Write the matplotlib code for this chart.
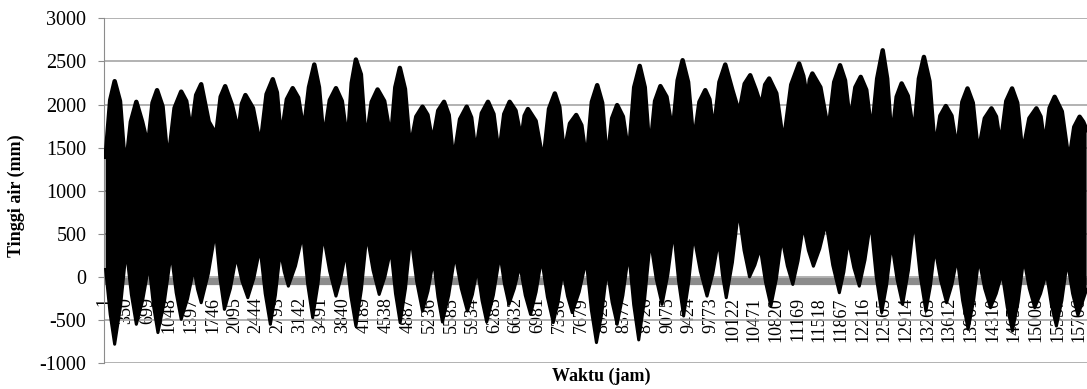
import matplotlib
matplotlib.use("Agg")
import matplotlib.pyplot as plt
import numpy as np

# Amplop atas (puncak pasang, bahu & lekukan antar puncak)
top_jam = [22, 95, 167, 253, 339, 428, 516, 610, 704, 777, 850, 938, 1025, 1132, 1239, 1320,
           1400, 1480, 1561, 1682, 1802, 1875, 1947, 2054, 2161, 2217, 2273, 2394, 2514, 2614,
           2714, 2780, 2847, 2941, 3035, 3123, 3212, 3297, 3383, 3458, 3534, 3633, 3732, 3826,
           3920, 3986, 4053, 4133, 4214, 4308, 4402, 4509, 4616, 4688, 4761, 4843, 4926, 5026,
           5126, 5206, 5287, 5380, 5473, 5548, 5624, 5731, 5838, 5910, 5983, 6082, 6181, 6269,
           6357, 6443, 6530, 6624, 6718, 6771, 6824, 6948, 7071, 7164, 7258, 7330, 7403, 7502,
           7602, 7685, 7768, 7854, 7940, 8020, 8100, 8180, 8261, 8354, 8448, 8536, 8625, 8706,
           8786, 8872, 8958, 9056, 9155, 9236, 9316, 9404, 9493, 9587, 9681, 9748, 9815, 9909,
           10003, 10116, 10228, 10316, 10405, 10494, 10582, 10646, 10710, 10825, 10940, 11066,
           11193, 11260, 11326, 11366, 11406, 11535, 11664, 11758, 11852, 11932, 12013, 12099,
           12185, 12274, 12362, 12450, 12539, 12611, 12683, 12764, 12844, 12943, 13042, 13122,
           13203, 13292, 13380, 13468, 13556, 13647, 13738, 13822, 13905, 13990, 14076, 14184,
           14291, 14364, 14436, 14530, 14623, 14706, 14790, 14902, 15015, 15082, 15148, 15228,
           15309, 15424, 15539, 15625, 15711, 15768, 15824]
top_mm = [1394, 2050, 2271, 2040, 1209, 1800, 2032, 1800, 1513, 2020, 2167, 1980, 1301, 1960, 2150, 2040,
          1670, 2110, 2236, 1800, 1647, 2090, 2213, 2000, 1680, 2010, 2110, 1960, 1513, 2120,
          2294, 2140, 1590, 2060, 2190, 2080, 1680, 2200, 2464, 2200, 1570, 2050, 2190, 2040,
          1530, 2250, 2522, 2350, 1532, 2030, 2175, 2040, 1586, 2200, 2425, 2180, 1475, 1860,
          1975, 1880, 1551, 1930, 2032, 1880, 1321, 1830, 1975, 1850, 1417, 1900, 2032, 1890,
          1398, 1890, 2032, 1930, 1586, 1870, 1948, 1810, 1321, 1950, 2129, 1970, 1417, 1780,
          1879, 1760, 1321, 2030, 2225, 2020, 1302, 1840, 1994, 1860, 1398, 2200, 2448, 2200,
          1417, 2040, 2214, 2090, 1667, 2280, 2514, 2260, 1532, 2030, 2167, 2060, 1667, 2260,
          2464, 2170, 1898, 2240, 2340, 2170, 1975, 2230, 2302, 2130, 1532, 2230,
          2476, 2330, 2052, 2290, 2360, 2200, 1686, 2260, 2456, 2280, 1782, 2200,
          2321, 2170, 1648, 2300, 2629, 2300, 1552, 2090, 2245, 2100, 1629, 2300,
          2552, 2270, 1455, 1870, 1983, 1870, 1455, 2030, 2187, 2020, 1417, 1840,
          1956, 1860, 1513, 2040, 2187, 2020, 1417, 1840, 1956, 1860, 1513, 1960,
          2090, 1920, 1321, 1740, 1859, 1800, 1705]

# Amplop bawah (surut terendah, bahu & puncak surut)
low_jam = [22, 95, 167, 261, 355, 436, 516, 618, 720, 792, 864, 971, 1078, 1158, 1239, 1341,
           1443, 1502, 1561, 1676, 1791, 1863, 1935, 2032, 2128, 2220, 2312, 2410, 2509, 2592,
           2675, 2756, 2836, 2900, 2965, 3080, 3196, 3276, 3357, 3442, 3527, 3630, 3732, 3812,
           3892, 3972, 4053, 4142, 4230, 4329, 4428, 4522, 4616, 4691, 4766, 4852, 4938, 5032,
           5126, 5214, 5303, 5375, 5447, 5548, 5650, 5750, 5849, 5930, 6010, 6085, 6160, 6267,
           6374, 6446, 6518, 6606, 6695, 6781, 6867, 6956, 7044, 7138, 7232, 7310, 7387, 7462,
           7538, 7650, 7763, 7846, 7928, 8014, 8100, 8180, 8261, 8354, 8448, 8528, 8609, 8703,
           8797, 8891, 8985, 9078, 9171, 9252, 9332, 9412, 9493, 9601, 9709, 9802, 9895, 9957,
           10019, 10118, 10217, 10306, 10394, 10480, 10566, 10652, 10738, 10826, 10915, 11003,
           11091, 11176, 11262, 11342, 11423, 11525, 11627, 11734, 11841, 11913, 11985, 12074,
           12162, 12254, 12346, 12434, 12523, 12603, 12683, 12772, 12860, 12954, 13047, 13141,
           13235, 13308, 13380, 13474, 13568, 13653, 13738, 13826, 13915, 14001, 14087, 14181,
           14275, 14368, 14462, 14546, 14629, 14720, 14811, 14900, 14988, 15082, 15176, 15256,
           15337, 15425, 15513, 15598, 15684, 15754, 15824]
low_mm = [89, -430, -777, -340, 320, -200, -546, -270, 147, -330, -642, -270, 281, -180, -488, -250,
          100, -140, -296, 40, 532, -10, -373, -130, 243, -50, -238, -10, 339, -190,
          -546, -210, 300, 60, -104, 130, 493, -80, -469, -80, 493, 70, -219, -10,
          300, -220, -566, -140, 493, 80, -200, 10, 320, -190, -527, -130, 474, -50,
          -393, -160, 197, -230, -520, -210, 262, -130, -393, -200, 100, -270, -520, -210,
          262, -80, -315, -130, 135, -210, -431, -170, 216, -230, -527, -290, 69, -220,
          -411, -170, 197, -380, -758, -420, 97, -290, -546, -210, 281, -320, -727, -260,
          428, -20, -315, 30, 543, -50, -450, -70, 493, 70, -219, 40, 428, 30,
          -238, 170, 774, 310, 4, 140, 339, -60, -334, -20, 455, 130,
          -84, 190, 597, 310, 127, 330, 628, 140, -180, 60, 428, 110,
          -104, 200, 647, 10, -411, -90, 397, -30, -315, 80, 674, 30,
          -393, -100, 339, -40, -296, -90, 224, -270, -604, -280, 216, -130,
          -354, -190, 51, -350, -623, -290, 216, -130, -354, -190, 51, -320,
          -566, -270, 185, -190, -442, -290, -142]

# Label sumbu x (setiap 349 jam)
label_jam = [1, 350, 699, 1048, 1397, 1746, 2095, 2444, 2793, 3142, 3491, 3840, 4189,
             4538, 4887, 5236, 5585, 5934, 6283, 6632, 6981, 7330, 7679, 8028, 8377,
             8726, 9075, 9424, 9773, 10122, 10471, 10820, 11169, 11518, 11867, 12216,
             12565, 12914, 13263, 13612, 13961, 14310, 14659, 15008, 15357, 15706]
garis_abu = -40

plt.rcParams['font.family'] = ['Liberation Serif', 'DejaVu Serif']
plt.rcParams['axes.unicode_minus'] = False

fig = plt.figure(figsize=(10.87, 3.89), dpi=100)
ax = fig.add_axes([0.096, 0.0656, 0.904, 0.8874])

# posisi sumbu x dulu (set_position mereset tick)
ax.spines['bottom'].set_position(('data', -200))
ax.spines['bottom'].set_visible(False)
ax.spines['top'].set_visible(False)
ax.spines['right'].set_visible(False)
ax.spines['left'].set_color('#8c8c8c')

# grid & garis abu-abu
ax.set_yticks(np.arange(-1000, 3001, 500))
ax.grid(axis='y', color='#a6a6a6', linewidth=1.2)
ax.axhline(garis_abu, color='#8c8c8c', linewidth=5.2, zorder=2.8)

# data (blok hitam)
xs = np.concatenate([top_jam, low_jam[::-1]])
ys = np.concatenate([top_mm, low_mm[::-1]])
ax.fill(xs, ys, color='black', zorder=3, linewidth=0)
ax.plot(top_jam, top_mm, color='black', linewidth=3.2, solid_joinstyle='round', zorder=3)
ax.plot(low_jam, low_mm, color='black', linewidth=2.2, solid_joinstyle='round', zorder=3)

ax.set_xlim(22, 15830)
ax.set_ylim(-1000, 3000)

ax.set_xticks(label_jam)
ax.set_xticklabels([str(v) for v in label_jam])
ax.tick_params(axis='x', length=0, pad=2, labelrotation=90, labelsize=13)
ax.tick_params(axis='y', length=4, color='#8c8c8c', labelsize=14.5, pad=9)

fig.text(16 / 1087, 1 - 196 / 389, 'Tinggi air (mm)', rotation=90, ha='center', va='center',
         fontsize=13, fontweight='bold')
fig.text(601 / 1087, 1 - 376 / 389, 'Waktu (jam)', ha='center', va='center',
         fontsize=13, fontweight='bold')

fig.savefig('out.png', dpi=100)
